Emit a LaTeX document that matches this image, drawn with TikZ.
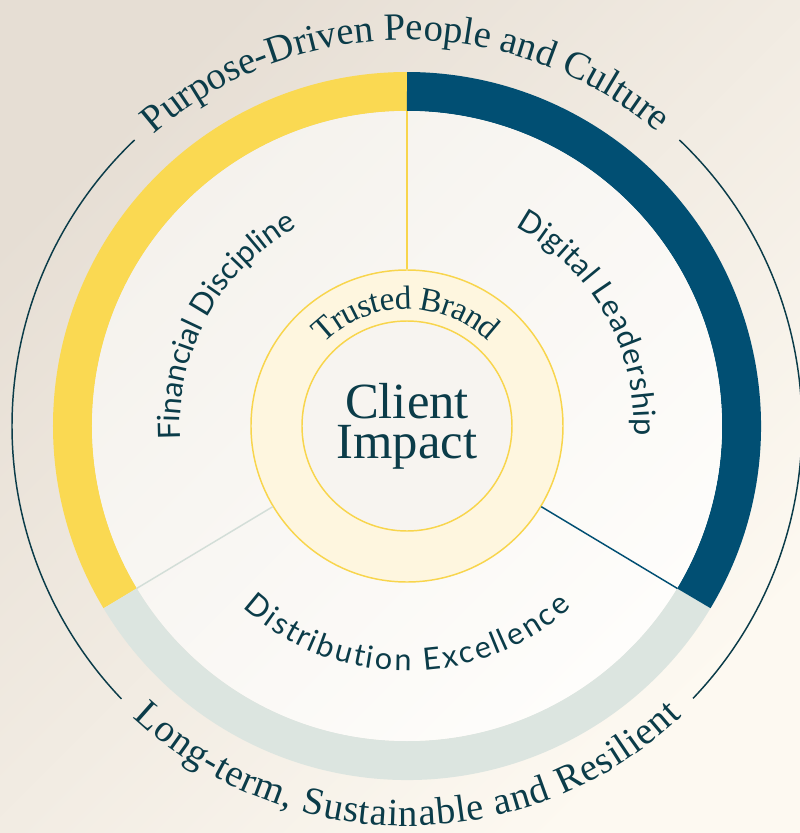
\documentclass[tikz,border=0pt]{standalone}
\usepackage{fontspec}
\setmainfont{Liberation Serif}
\newfontfamily\sansfont{Lato}
\usetikzlibrary{decorations.text}

\definecolor{ink}{HTML}{0B3C49}
\definecolor{bgA}{HTML}{E6DED4}
\definecolor{bgB}{HTML}{FDF9F1}
\definecolor{discA}{HTML}{F5F2ED}
\definecolor{discB}{HTML}{FEFDFB}
\definecolor{gold}{HTML}{FAD952}
\definecolor{navy}{HTML}{014F73}
\definecolor{sage}{HTML}{DCE5E0}
\definecolor{goldline}{HTML}{F8D54C}
\definecolor{sageline}{HTML}{D3DED8}
\definecolor{cream}{HTML}{FEF6DF}
\definecolor{core}{HTML}{F7F4F0}

\newcommand\rimfont{\fontsize{29}{29}\selectfont}
\newcommand\brandfont{\fontsize{25}{25}\selectfont}
\newcommand\petalfont{\sansfont\fontsize{23}{23}\selectfont}

\tikzset{
  band/.style={line width=29.25pt},
  rim/.style={draw=ink, line width=1.1pt},
  divider/.style={line width=1.1pt},
  arctext/.style 2 args={decorate, decoration={text effects along path, text={#2},
      text effects/.cd, text along path, fit text to path,
      characters={inner sep=0pt, text=ink, font=#1}}},
}

\begin{document}
\begin{tikzpicture}[x=0.75pt, y=0.75pt]
  \useasboundingbox (-407,-407) rectangle (393,426);
  \shade[top color=bgA, bottom color=bgB, shading angle=45] (-407,-407) rectangle (393,426);

  % outer band
  \draw[band, gold] (90:334.5) arc[start angle=90, end angle=211, radius=334.5];
  \draw[band, sage] (211:334.5) arc[start angle=211, end angle=329, radius=334.5];
  \draw[band, navy] (329:334.5) arc[start angle=329, end angle=450, radius=334.5];

  \node[circle, inner sep=0pt, minimum size=472.5pt, top color=discA, bottom color=discB, shading angle=45] (disc) at (0,0) {};
  \node[circle, inner sep=0pt, minimum size=234pt, fill=cream, draw=goldline, line width=1.1pt] (brand) at (0,0) {};
  \node[circle, inner sep=0pt, minimum size=157.5pt, fill=core, draw=goldline, line width=1.1pt, text=ink, align=center,
        font=\fontsize{38}{30}\selectfont] (impact) at (0,0) {Client\\Impact};

  \draw[divider, goldline] (brand.90) -- (disc.90);
  \draw[divider, sageline] (brand.211) -- (disc.211);
  \draw[divider, navy] (brand.329) -- (disc.329);

  % rim arcs
  \draw[rim] (133.6:395) arc[start angle=133.6, end angle=223.7, radius=395];
  \draw[rim] (-43.6:395) arc[start angle=-43.6, end angle=46.4, radius=395];

  % labels on arcs
  \path[arctext={\rimfont}{Purpose-Driven People and Culture}] (131:386) arc[start angle=131, end angle=49.5, radius=386];
  \path[arctext={\rimfont}{Long-term, Sustainable and Resilient}] (226.7:400) arc[start angle=226.7, end angle=313.4, radius=400];
  \path[arctext={\brandfont}{Trusted Brand}] (135.5:117) arc[start angle=135.5, end angle=46, radius=117];
  \path[arctext={\petalfont}{Financial Discipline}] (183.5:227) arc[start angle=183.5, end angle=119, radius=227];
  \path[arctext={\petalfont}{Digital Leadership}] (61.5:227) arc[start angle=61.5, end angle=-2.5, radius=227];
  \path[arctext={\petalfont}{Distribution Excellence}] (227.8:245) arc[start angle=227.8, end angle=312.3, radius=245];
\end{tikzpicture}
\end{document}
